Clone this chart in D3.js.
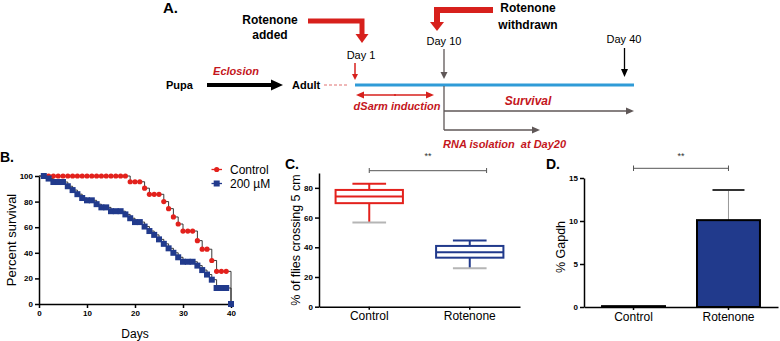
<!DOCTYPE html>
<html lang="en">
<head>
<meta charset="utf-8">
<title>Rotenone: survival, climbing and dSarm expression</title>
<script src="https://cdn.jsdelivr.net/npm/d3@7"></script>
<style>
  body { margin: 0; background: #fff; }
  svg { display: block; font-family: "Liberation Sans", Arial, sans-serif; }
  .axis path, .axis line { stroke: #000; stroke-width: 1.5; }
  .axis .tick text { font-size: 8px; font-weight: bold; fill: #000; }
  .cat .tick text { font-size: 12px; font-weight: normal; }
</style>
</head>
<body>
<div id="fig"></div>
<script>
// ---------- data ----------
// B. survival (percent) per day
var days = [1, 2, 3, 4, 5, 6, 7, 8, 9, 10, 11, 12, 13, 14, 15, 16, 17, 18, 19, 20,
            21, 22, 23, 24, 25, 26, 27, 28, 29, 30, 31, 32, 33, 34, 35, 36, 37, 38, 39, 40];
var controlSurvival = [100, 100, 100, 100, 100, 100, 100, 100, 100, 100, 100, 100, 100, 100, 100, 100, 100, 100,
                       95.5, 95.5, 95.5, 90.5, 85.7, 85.7, 85.7, 80, 74.5, 68, 62.5, 57, 57, 57,
                       49.5, 42.8, 42.8, 34, 25.5, 25.5, 25.5, 0];
var rotenoneSurvival = [100, 98, 95.3, 95.3, 95.3, 92, 89, 85.8, 82.8, 81, 81, 78, 75.5, 75.5, 72.5, 72.5, 72.5, 70,
                        67, 64, 64, 60.5, 57, 54, 50.5, 47, 43.5, 40, 36.5, 33, 33, 33,
                        30, 26.5, 23, 19, 12.5, 12.5, 12.5, 0];
var survivalSeries = ["Control", "200 \u00b5M"];
var survivalTicksX = [0, 10, 20, 30, 40];
var survivalTicksY = [0, 20, 40, 60, 80, 100];

// C. climbing assay box plot
var groups = ["Control", "Rotenone"];
var climbMin = [56.6, 25.9];
var climbQ1 = [69.7, 33.0];
var climbMedian = [74.1, 36.6];
var climbQ3 = [78.6, 40.9];
var climbMax = [82.7, 44.5];
var climbTicks = [0, 20, 40, 60, 80];

// D. dSarm RNA (% Gapdh)
var gapdhMean = [0.1, 10.1];
var gapdhErr = [0, 3.5];
var gapdhTicks = [0, 5, 10, 15];

var red = "#e3211c", navy = "#213a8c";

var svg = d3.select("#fig").append("svg")
            .attr("width", 780)
            .attr("height", 341);

// ---------- helpers ----------
function arrow(g, x1, y1, x2, y2, color, sw, hl, hw) {
    var a = Math.atan2(y2 - y1, x2 - x1);
    var bx = x2 - hl * Math.cos(a), by = y2 - hl * Math.sin(a);
    g.append("line")
     .attr("x1", x1).attr("y1", y1).attr("x2", bx).attr("y2", by)
     .attr("stroke", color).attr("stroke-width", sw);
    g.append("path")
     .attr("d", "M" + x2 + "," + y2 +
                "L" + (bx + hw / 2 * Math.sin(a)) + "," + (by - hw / 2 * Math.cos(a)) +
                "L" + (bx - hw / 2 * Math.sin(a)) + "," + (by + hw / 2 * Math.cos(a)) + "Z")
     .attr("fill", color);
}
function label(g, txt, x, y, opts) {
    opts = opts || {};
    return g.append("text")
            .attr("x", x).attr("y", y).attr("dy", "0.35em")
            .attr("text-anchor", opts.anchor || "middle")
            .attr("font-size", opts.size || 11)
            .attr("font-weight", opts.weight || "normal")
            .attr("font-style", opts.style || "normal")
            .attr("fill", opts.color || "#000")
            .attr("xml:space", "preserve")
            .text(txt);
}

// ---------- A. timeline ----------
var A = svg.append("g");
var darkRed = "#c4161c", grey = "#5f5757";
label(A, "A.", 163, 8, {size: 15, weight: "bold", anchor: "start"});
label(A, "Rotenone", 270, 20, {size: 12, weight: "bold"});
label(A, "added", 270, 35, {size: 12, weight: "bold"});
label(A, "Rotenone", 528, 8, {size: 12, weight: "bold"});
label(A, "withdrawn", 528, 25, {size: 12, weight: "bold"});
// bent red arrows
A.append("path").attr("d", "M308,21H362V35").attr("fill", "none")
 .attr("stroke", "#d7201c").attr("stroke-width", 5);
arrow(A, 362, 34, 362, 43, "#d7201c", 0, 9, 13);
A.append("path").attr("d", "M493,10H437V23").attr("fill", "none")
 .attr("stroke", "#d7201c").attr("stroke-width", 6);
arrow(A, 437, 22, 437, 31, "#d7201c", 0, 9, 14);

label(A, "Day 1", 361, 55);
label(A, "Day 10", 444, 41);
label(A, "Day 40", 624, 39);
arrow(A, 355, 63, 355, 80, "#d7201c", 1.5, 6, 6);
arrow(A, 444, 49, 444, 79, grey, 1.3, 7, 7);
arrow(A, 624.5, 48, 624.5, 77, "#000", 1.3, 8, 7);

label(A, "Pupa", 166, 85, {weight: "bold", anchor: "start"});
label(A, "Adult", 292, 85, {weight: "bold", anchor: "start"});
label(A, "Eclosion", 236, 71, {weight: "bold", style: "italic", color: darkRed});
arrow(A, 207, 85, 283, 85, "#000", 4, 12, 11);
A.append("line").attr("x1", 324).attr("x2", 348).attr("y1", 85).attr("y2", 85)
 .attr("stroke", "#e07070").attr("stroke-width", 1).attr("stroke-dasharray", "3,2");
A.append("line").attr("x1", 355).attr("x2", 634).attr("y1", 85).attr("y2", 85)
 .attr("stroke", "#2f9bd7").attr("stroke-width", 3);

// dSarm double arrow
arrow(A, 394, 95, 434, 95, "#d7201c", 1.5, 8, 7);
arrow(A, 396, 95, 356, 95, "#d7201c", 1.5, 8, 7);
label(A, "dSarm induction", 397, 106, {weight: "bold", style: "italic", color: darkRed});

A.append("line").attr("x1", 444).attr("x2", 444).attr("y1", 86).attr("y2", 130)
 .attr("stroke", grey).attr("stroke-width", 1.3);
arrow(A, 444, 111, 634, 111, grey, 1.3, 8, 7);
arrow(A, 444, 130, 540, 130, grey, 1.3, 8, 7);
label(A, "Survival", 528, 101, {weight: "bold", style: "italic", color: darkRed, size: 12});
label(A, "RNA isolation  at Day20", 443, 144, {weight: "bold", style: "italic", color: darkRed, anchor: "start"});

// ---------- B. survival ----------
var B = svg.append("g");
var bx = d3.scaleLinear().domain([0, 40]).range([39, 231]);
var by = d3.scaleLinear().domain([0, 100]).range([304, 176]);
label(B, "B.", 0, 157, {size: 14, weight: "bold", anchor: "start"});

B.append("g").attr("class", "axis")
 .attr("transform", "translate(0,304)")
 .call(d3.axisBottom(bx).tickValues(survivalTicksX).tickSize(4).tickSizeOuter(0).tickPadding(2));
B.append("g").attr("class", "axis")
 .attr("transform", "translate(39,0)")
 .call(d3.axisLeft(by).tickValues(survivalTicksY).tickSize(4).tickSizeOuter(0).tickPadding(2));

label(B, "Days", bx(20), 334, {size: 12});
B.append("text").attr("transform", "translate(16,240) rotate(-90)")
 .attr("text-anchor", "middle").attr("font-size", 13).text("Percent survival");

var step = d3.line()
             .x(function(d){ return bx(d[0]); })
             .y(function(d){ return by(d[1]); })
             .curve(d3.curveStepAfter);
[controlSurvival, rotenoneSurvival].forEach(function(vals){
    var pts = [[0, 100]].concat(days.map(function(d, i){ return [d, vals[i]]; }));
    B.append("path").attr("d", step(pts)).attr("fill", "none")
     .attr("stroke", "#222").attr("stroke-width", 0.9);
});
B.selectAll("circle.ctl").data(days).enter().append("circle")
 .attr("cx", function(d){ return bx(d); })
 .attr("cy", function(d, i){ return by(controlSurvival[i]); })
 .attr("r", 2.6).attr("fill", red);
B.selectAll("rect.rot").data(days).enter().append("rect")
 .attr("x", function(d){ return bx(d) - 3; })
 .attr("y", function(d, i){ return by(rotenoneSurvival[i]) - 3; })
 .attr("width", 6).attr("height", 6).attr("fill", navy);

// legend
survivalSeries.forEach(function(s, i){
    var ly = 169.5 + i * 14, c = i === 0 ? red : navy;
    B.append("line").attr("x1", 211.5).attr("x2", 222).attr("y1", ly).attr("y2", ly)
     .attr("stroke", c).attr("stroke-width", 1.3);
    if (i === 0) B.append("circle").attr("cx", 216.7).attr("cy", ly).attr("r", 2.6).attr("fill", c);
    else B.append("rect").attr("x", 213.7).attr("y", ly - 3).attr("width", 6).attr("height", 6).attr("fill", c);
    label(B, s, 230, ly, {size: 12, anchor: "start"});
});

// ---------- C. climbing box plot ----------
var C = svg.append("g");
var cx = d3.scaleBand().domain(groups).range([319, 520]).paddingInner(0.33).paddingOuter(0.165);
var cy = d3.scaleLinear().domain([0, 90]).range([306.7, 173]);
var cbw = cx.bandwidth();
label(C, "C.", 285, 164, {size: 14, weight: "bold", anchor: "start"});
C.append("g").attr("class", "axis cat")
 .attr("transform", "translate(0,306.7)")
 .call(d3.axisBottom(cx).tickSize(3).tickSizeOuter(0).tickPadding(2));
C.append("g").attr("class", "axis")
 .attr("transform", "translate(319,0)")
 .call(d3.axisLeft(cy).tickValues(climbTicks).tickSize(4).tickSizeOuter(0).tickPadding(2));
C.append("text").attr("transform", "translate(300,240) rotate(-90)")
 .attr("text-anchor", "middle").attr("font-size", 12.5).text("% of flies crossing 5 cm");

groups.forEach(function(g, i){
    var col = i === 0 ? red : navy;
    var x0 = cx(g), xm = x0 + cbw / 2;
    var box = C.append("g").attr("stroke", col).attr("stroke-width", 2).attr("fill", "#fff");
    box.append("line").attr("x1", xm).attr("x2", xm).attr("y1", cy(climbMax[i])).attr("y2", cy(climbQ3[i]));
    box.append("line").attr("x1", xm).attr("x2", xm).attr("y1", cy(climbQ1[i])).attr("y2", cy(climbMin[i]));
    box.append("line").attr("x1", xm - cbw / 4).attr("x2", xm + cbw / 4)
       .attr("y1", cy(climbMax[i])).attr("y2", cy(climbMax[i]));
    box.append("line").attr("x1", xm - cbw / 4).attr("x2", xm + cbw / 4)
       .attr("y1", cy(climbMin[i])).attr("y2", cy(climbMin[i])).attr("stroke", "#b5b5b5");
    box.append("rect").attr("x", x0).attr("width", cbw)
       .attr("y", cy(climbQ3[i])).attr("height", cy(climbQ1[i]) - cy(climbQ3[i]));
    box.append("line").attr("x1", x0).attr("x2", x0 + cbw)
       .attr("y1", cy(climbMedian[i])).attr("y2", cy(climbMedian[i]));
});
// significance
var s1 = cx("Control") + cbw / 2, s2 = cx("Rotenone") + cbw * 0.75;
C.append("path").attr("d", "M" + s1 + ",168V173M" + s1 + ",170.7H" + s2 + "M" + s2 + ",168V173")
 .attr("fill", "none").attr("stroke", "#555").attr("stroke-width", 1);
label(C, "**", (s1 + s2) / 2, 156, {size: 9, color: "#333"});

// ---------- D. Gapdh bars ----------
var D = svg.append("g");
var dx = d3.scaleBand().domain(groups).range([584, 778]).paddingInner(0.337).paddingOuter(0.19);
var dy = d3.scaleLinear().domain([0, 15]).range([307, 178]);
var dbw = dx.bandwidth();
label(D, "D.", 546, 164, {size: 14, weight: "bold", anchor: "start"});

groups.forEach(function(g, i){
    var xm = dx(g) + dbw / 2;
    if (gapdhErr[i] > 0) {
        D.append("line").attr("x1", xm).attr("x2", xm)
         .attr("y1", dy(gapdhMean[i])).attr("y2", dy(gapdhMean[i] + gapdhErr[i]))
         .attr("stroke", "#999").attr("stroke-width", 1);
        D.append("line").attr("x1", xm - 16).attr("x2", xm + 16)
         .attr("y1", dy(gapdhMean[i] + gapdhErr[i])).attr("y2", dy(gapdhMean[i] + gapdhErr[i]))
         .attr("stroke", "#333").attr("stroke-width", 2);
    }
});
D.selectAll("rect.bar").data(groups).enter().append("rect")
 .attr("x", function(d){ return dx(d); })
 .attr("width", dbw)
 .attr("y", function(d, i){ return dy(gapdhMean[i]); })
 .attr("height", function(d, i){ return dy(0) - dy(gapdhMean[i]); })
 .attr("fill", navy).attr("stroke", "#000").attr("stroke-width", 2);

D.append("g").attr("class", "axis cat")
 .attr("transform", "translate(0,307)")
 .call(d3.axisBottom(dx).tickSize(3).tickSizeOuter(0).tickPadding(2));
D.append("g").attr("class", "axis")
 .attr("transform", "translate(584,0)")
 .call(d3.axisLeft(dy).tickValues(gapdhTicks).tickSize(4).tickSizeOuter(0).tickPadding(2));
D.append("text").attr("transform", "translate(565,247) rotate(-90)")
 .attr("text-anchor", "middle").attr("font-size", 12.5).text("% Gapdh");

var t1 = dx("Control") + dbw / 2, t2 = dx("Rotenone") + dbw / 2;
D.append("path").attr("d", "M" + t1 + ",165.5V171M" + t1 + ",168.3H" + t2 + "M" + t2 + ",165.5V171")
 .attr("fill", "none").attr("stroke", "#555").attr("stroke-width", 1);
label(D, "**", (t1 + t2) / 2, 156, {size: 9, color: "#333"});
</script>
</body>
</html>
